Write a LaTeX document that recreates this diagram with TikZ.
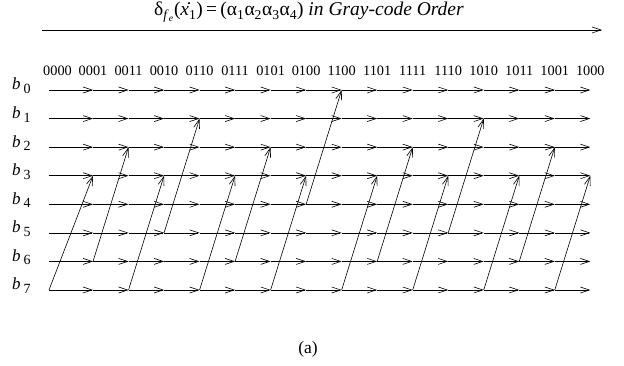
\documentclass[tikz,border=0pt]{standalone}
\usepackage{fontspec}
\setmainfont{Liberation Serif}
\usetikzlibrary{arrows.meta}
\begin{document}
\begin{tikzpicture}[x=1pt,y=-1pt,
  flow/.style={line width=0.6pt,-{Straight Barb[length=9pt,width=6pt,line width=0.6pt]}},
  rowlab/.style={anchor=base west,inner sep=0pt,font=\fontsize{17}{19}\selectfont},
  collab/.style={anchor=base,inner sep=0pt,font=\fontsize{14.3}{16}\selectfont},
  titlelab/.style={anchor=base,inner sep=0pt,font=\fontsize{19.5}{22}\selectfont},
  caplab/.style={anchor=base,inner sep=0pt,font=\fontsize{17.5}{19}\selectfont}]
\useasboundingbox (0,0) rectangle (624,366);
% title and main arrow
\node[titlelab] (title) at (309,16) {δ\textsubscript{\textit{f}\textsubscript{\textit{e}}}(\.{\textit{x}}\textsubscript{1})\,=\,(α\textsubscript{1}α\textsubscript{2}α\textsubscript{3}α\textsubscript{4}) \textit{in Gray-code Order}};
\coordinate (t0) at (42,30);
\coordinate (t1) at (602,30);
\draw[flow] (t0) -- (t1);
% grid coordinates and row labels
\foreach \i in {0,...,7} {
  \pgfmathsetmacro\yy{90+28.57*\i}
  \coordinate (r\i-0) at (49,\yy);
  \foreach \k in {1,...,15} {
    \pgfmathsetmacro\xx{57.5+35.52*\k}
    \coordinate (r\i-\k) at (\xx,\yy);
  }
  \node[rowlab] (lab\i) at (12,\yy) {\textit{b}\kern3pt\raisebox{-3.5pt}{\fontsize{14}{16}\selectfont\i}};
}
% column labels
\foreach \t [count=\n from 0] in {0000,0001,0011,0010,0110,0111,0101,0100,1100,1101,1111,1110,1010,1011,1001,1000} {
  \node[collab] (c\n) at ({57.5+35.52*\n},76) {\t};
}
% horizontal arrows
\foreach \i in {0,...,7} {
  \foreach \k [evaluate=\k as \p using int(\k-1)] in {1,...,15} {
    \draw[flow] (r\i-\p) -- (r\i-\k);
  }
}
% diagonal transitions
\foreach \a/\c/\b [evaluate=\c as \d using int(\c+1)] in {7/0/3,6/1/2,7/2/3,5/3/1,7/4/3,6/5/2,7/6/3,4/7/0,7/8/3,6/9/2,7/10/3,5/11/1,7/12/3,6/13/2,7/14/3} {
  \draw[flow] (r\a-\c) -- (r\b-\d);
}
\node[caplab] (cap) at (308,353) {(a)};
\end{tikzpicture}
\end{document}
